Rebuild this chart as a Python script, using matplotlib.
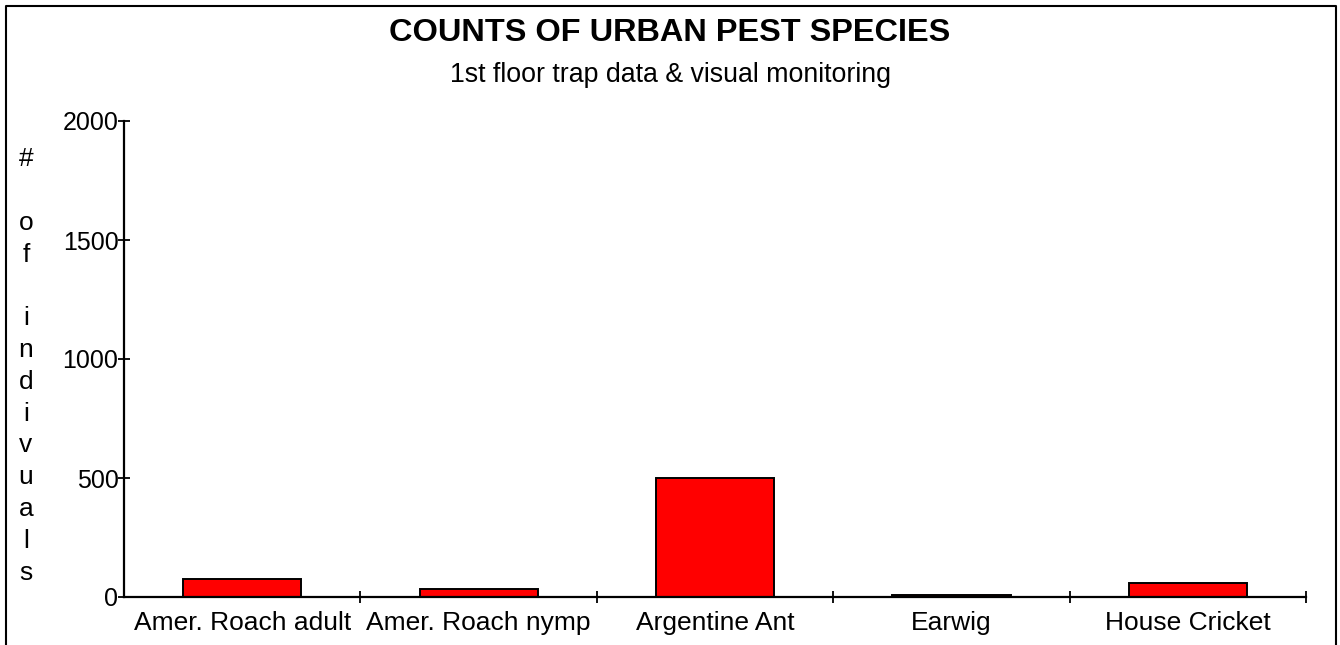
import matplotlib
matplotlib.use("Agg")
import matplotlib.pyplot as plt
from matplotlib.lines import Line2D

categories = ["Amer. Roach adult", "Amer. Roach nymp", "Argentine Ant", "Earwig", "House Cricket"]
counts = [77, 34, 498, 9, 59]
yticks = [0, 500, 1000, 1500, 2000]
title = "COUNTS OF URBAN PEST SPECIES"
subtitle = "1st floor trap data & visual monitoring"
ylabel = "# of indivuals"

plt.rcParams['font.family'] = ['Liberation Sans', 'DejaVu Sans']

W, H = 1340, 645
fig = plt.figure(figsize=(W / 100, H / 100), dpi=100)
ax = fig.add_axes([124 / W, 1 - 597 / H, (1306 - 124) / W, (597 - 121) / H])

x = list(range(len(categories)))
ax.bar(x, counts, width=0.5, color="#ff0000", edgecolor="black", linewidth=1.4)

ax.set_xlim(-0.5, len(categories) - 0.5)
ax.set_ylim(0, 2000)
ax.set_yticks(yticks)
ax.set_yticklabels([str(v) for v in yticks], fontsize=18)
ax.set_xticks(x)
ax.set_xticklabels(categories, fontsize=19)
ax.set_xticks([i + 0.5 for i in x], minor=True)
ax.tick_params(axis='x', which='major', length=0, pad=10)
ax.tick_params(axis='x', which='minor', direction='inout', length=8, width=1.3)
ax.tick_params(axis='y', direction='inout', length=8, width=1.3, pad=0)
for s in ['top', 'right']:
    ax.spines[s].set_visible(False)
for s in ['left', 'bottom']:
    ax.spines[s].set_linewidth(1.6)

fig.text(0.5, 1 - 33 / H, title, ha='center', va='center', fontsize=23.4, fontweight='bold')
fig.text(0.5, 1 - 75 / H, subtitle, ha='center', va='center', fontsize=19.3)

# stacked vertical y-label
stack = "\n".join(ch if ch != " " else "" for ch in ylabel)
fig.text(26 / W, 1 - 366 / H, stack, ha='center', va='center', fontsize=19, linespacing=1.41)

# frame around figure (left, top, right)
fx0, fx1, fy = 6 / W, 1336 / W, 1 - 6 / H
fig.add_artist(Line2D([fx0, fx0, fx1, fx1], [0, fy, fy, 0], transform=fig.transFigure,
                      color='black', linewidth=1.5))

fig.savefig("out.png", dpi=100)
